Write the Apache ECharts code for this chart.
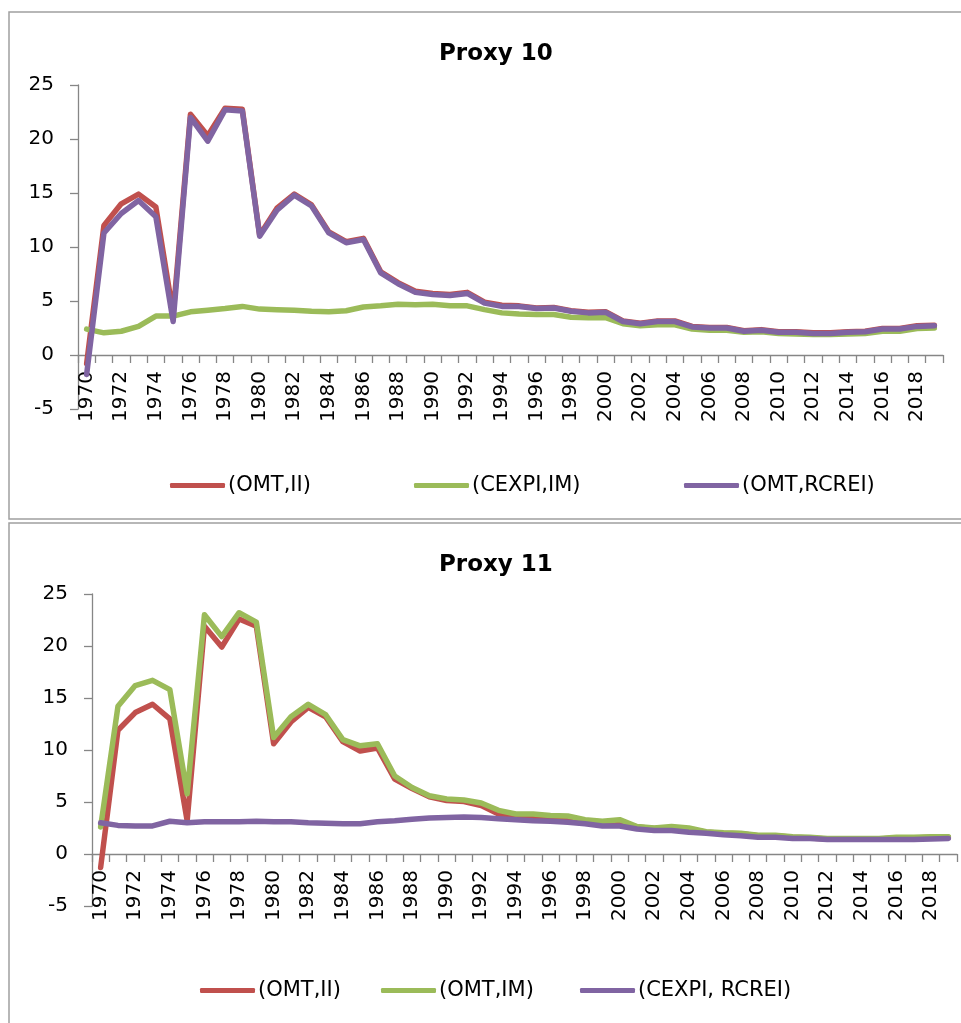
<!DOCTYPE html>
<html>
<head>
<meta charset="utf-8">
<script src="https://cdn.jsdelivr.net/npm/echarts@6/dist/echarts.min.js"></script>
<style>
html,body{margin:0;padding:0;background:#fff;overflow:hidden;}
#c{width:961px;height:1023px;}
</style>
</head>
<body>
<div id="c"></div>
<script>
const years = [];
for (let y = 1970; y <= 2019; y++) years.push(String(y));

const yTicks = { min: -5, max: 25, interval: 5 };

// Proxy 10
const p10_omt_ii = [-0.8, 12.0, 14.0, 14.9, 13.7, 3.8, 22.3, 20.3, 22.85, 22.75, 11.1, 13.6, 14.9, 13.9, 11.4, 10.5, 10.8, 7.7, 6.7, 5.9, 5.7, 5.6, 5.8, 4.9, 4.6, 4.55, 4.35, 4.4, 4.1, 3.95, 4.0, 3.15, 2.95, 3.15, 3.15, 2.65, 2.55, 2.55, 2.25, 2.35, 2.15, 2.15, 2.05, 2.05, 2.15, 2.2, 2.45, 2.45, 2.7, 2.75];
const p10_cexpi_im = [2.4, 2.05, 2.2, 2.65, 3.6, 3.6, 4.0, 4.15, 4.3, 4.5, 4.25, 4.2, 4.15, 4.05, 4.0, 4.1, 4.45, 4.55, 4.7, 4.65, 4.7, 4.55, 4.55, 4.2, 3.9, 3.8, 3.75, 3.75, 3.5, 3.45, 3.45, 2.9, 2.7, 2.8, 2.8, 2.4, 2.3, 2.3, 2.1, 2.15, 2.0, 1.95, 1.9, 1.9, 1.95, 2.0, 2.2, 2.2, 2.45, 2.5];
const p10_omt_rcrei = [-1.8, 11.3, 13.1, 14.3, 12.8, 3.1, 22.0, 19.8, 22.7, 22.6, 11.0, 13.4, 14.8, 13.8, 11.3, 10.4, 10.7, 7.6, 6.6, 5.8, 5.6, 5.5, 5.7, 4.8, 4.5, 4.5, 4.3, 4.35, 4.05, 3.9, 3.95, 3.1, 2.9, 3.1, 3.1, 2.6, 2.5, 2.5, 2.2, 2.3, 2.1, 2.1, 2.0, 2.0, 2.1, 2.15, 2.4, 2.4, 2.65, 2.7];

// Proxy 11
const p11_omt_ii = [-1.3, 11.9, 13.6, 14.4, 13.0, 3.2, 21.9, 19.9, 22.6, 21.9, 10.6, 12.7, 14.1, 13.2, 10.8, 9.9, 10.2, 7.2, 6.3, 5.5, 5.15, 5.05, 4.65, 3.85, 3.6, 3.55, 3.5, 3.45, 3.2, 3.05, 3.1, 2.6, 2.45, 2.5, 2.4, 2.1, 2.0, 1.95, 1.75, 1.75, 1.6, 1.55, 1.45, 1.45, 1.45, 1.45, 1.55, 1.55, 1.6, 1.6];
const p11_omt_im = [2.6, 14.2, 16.2, 16.7, 15.8, 5.8, 23.0, 20.9, 23.2, 22.3, 11.2, 13.2, 14.4, 13.4, 11.0, 10.4, 10.6, 7.5, 6.4, 5.6, 5.3, 5.2, 4.9, 4.2, 3.85, 3.85, 3.7, 3.65, 3.3, 3.15, 3.3, 2.65, 2.5, 2.65, 2.5, 2.15, 2.05, 2.0, 1.8, 1.8, 1.65, 1.6, 1.5, 1.5, 1.5, 1.5, 1.6, 1.6, 1.65, 1.65];
const p11_cexpi_rcrei = [3.0, 2.75, 2.7, 2.7, 3.15, 3.0, 3.1, 3.1, 3.1, 3.15, 3.1, 3.1, 3.0, 2.95, 2.9, 2.9, 3.1, 3.2, 3.35, 3.45, 3.5, 3.55, 3.5, 3.4, 3.3, 3.2, 3.15, 3.05, 2.9, 2.7, 2.7, 2.4, 2.25, 2.25, 2.1, 2.0, 1.85, 1.75, 1.6, 1.6, 1.5, 1.5, 1.4, 1.4, 1.4, 1.4, 1.4, 1.4, 1.45, 1.5];

const RED = '#C0504D', GREEN = '#9BBB59', PURPLE = '#8064A2';
const AXIS = '#868686';
const FONT = 'DejaVu Sans';

const GRID_H = [324, 312];

function xAxis(gi) {
  // place axis at the zero value line: offset upward by the share of the grid below zero
  const zeroOffset = GRID_H[gi] * (0 - yTicks.min) / (yTicks.max - yTicks.min);
  return {
    type: 'category', gridIndex: gi, data: years, boundaryGap: true,
    position: 'bottom', offset: -zeroOffset,
    axisLine: { onZero: false, lineStyle: { color: AXIS, width: 1.3 } },
    axisTick: { show: true, interval: 0, length: 8, lineStyle: { color: AXIS, width: 1.3 } },
    axisLabel: { interval: 1, rotate: 90, margin: 16, color: '#000', fontFamily: FONT, fontSize: 20 },
    splitLine: { show: false }
  };
}
function yAxis(gi) {
  return {
    type: 'value', gridIndex: gi, min: yTicks.min, max: yTicks.max, interval: yTicks.interval,
    axisLine: { show: true, onZero: false, lineStyle: { color: AXIS, width: 1.3 } },
    axisTick: { show: true, length: 8, lineStyle: { color: AXIS, width: 1.3 } },
    axisLabel: { margin: 24, color: '#000', fontFamily: FONT, fontSize: 20 },
    splitLine: { show: false }
  };
}
function line(name, data, color, gi, z) {
  return {
    type: 'line', name, data, xAxisIndex: gi, yAxisIndex: gi, z,
    showSymbol: false, symbol: 'none', smooth: false,
    lineStyle: { color, width: 5.5, cap: 'round', join: 'round' },
    itemStyle: { color },
    emphasis: { disabled: true }, silent: true, animation: false
  };
}
function legend(name, left, top) {
  return {
    data: [{ name, icon: 'roundRect' }], left, top, padding: 0,
    itemWidth: 55, itemHeight: 5, itemGap: 0, selectedMode: false,
    textStyle: { fontFamily: FONT, fontSize: 21, color: '#000', padding: [0, 0, 0, -2] }
  };
}

const chart = echarts.init(document.getElementById('c'));
chart.setOption({
  animation: false,
  backgroundColor: '#fff',
  graphic: [
    { type: 'rect', shape: { x: 9, y: 12, width: 970, height: 507 }, style: { fill: 'none', stroke: '#a0a0a0', lineWidth: 1.5 }, silent: true },
    { type: 'rect', shape: { x: 9, y: 523, width: 970, height: 520 }, style: { fill: 'none', stroke: '#a0a0a0', lineWidth: 1.5 }, silent: true }
  ],
  title: [
    { text: 'Proxy 10', left: 434, top: 38, textStyle: { fontFamily: FONT, fontWeight: 'bold', fontSize: 23, color: '#000' } },
    { text: 'Proxy 11', left: 434, top: 549, textStyle: { fontFamily: FONT, fontWeight: 'bold', fontSize: 23, color: '#000' } }
  ],
  legend: [
    legend('(OMT,II)', 170, 475),
    legend('(CEXPI,IM)', 414, 475),
    legend('(OMT,RCREI)', 684, 475),
    legend('(OMT,II)', 200, 980),
    legend('(OMT,IM)', 381, 980),
    legend('(CEXPI, RCREI)', 580, 980)
  ],
  grid: [
    { left: 78, top: 85, width: 865, height: GRID_H[0] },
    { left: 92, top: 594, width: 865, height: GRID_H[1] }
  ],
  xAxis: [xAxis(0), xAxis(1)],
  yAxis: [yAxis(0), yAxis(1)],
  series: [
    line('(OMT,II)', p10_omt_ii, RED, 0, 2),
    line('(CEXPI,IM)', p10_cexpi_im, GREEN, 0, 3),
    line('(OMT,RCREI)', p10_omt_rcrei, PURPLE, 0, 4),
    line('(OMT,II)', p11_omt_ii, RED, 1, 2),
    line('(OMT,IM)', p11_omt_im, GREEN, 1, 3),
    line('(CEXPI, RCREI)', p11_cexpi_rcrei, PURPLE, 1, 4)
  ]
});
</script>
</body>
</html>
